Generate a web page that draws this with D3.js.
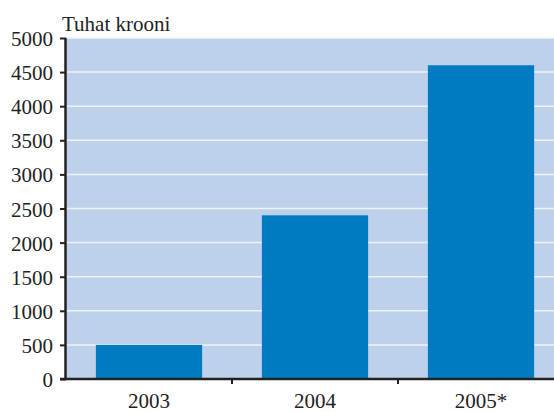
<!DOCTYPE html>
<html>
<head>
<meta charset="utf-8">
<script src="https://cdn.jsdelivr.net/npm/d3@7/dist/d3.min.js"></script>
<style>
  body { margin: 0; background: #fff; }
  #chart text { font-family: 'Liberation Serif', 'Times New Roman', Times, serif !important; fill: #222; }
</style>
</head>
<body>
<svg id="chart" width="554" height="412"></svg>
<script>
var years = ['2003', '2004', '2005*'];
var values = [500, 2400, 4600];
var yTicks = [0, 500, 1000, 1500, 2000, 2500, 3000, 3500, 4000, 4500, 5000];
var unitLabel = 'Tuhat krooni';

var svg = d3.select('#chart');
var plotLeft = 66, plotRight = 564, plotTop = 38, plotBottom = 379;

var x = d3.scaleBand().domain(years).range([plotLeft, plotRight])
  .paddingInner(0.36).paddingOuter(0.18);
var y = d3.scaleLinear().domain([0, 5000]).range([plotBottom, plotTop]);

// plot background
svg.append('rect').attr('x', plotLeft).attr('y', plotTop)
  .attr('width', plotRight - plotLeft).attr('height', plotBottom - plotTop)
  .attr('fill', '#bed1ea');

// gridlines
svg.append('g').selectAll('line').data(yTicks.slice(1)).enter().append('line')
  .attr('x1', plotLeft).attr('x2', plotRight)
  .attr('y1', function(d) { return y(d); })
  .attr('y2', function(d) { return y(d); })
  .attr('stroke', '#eef3fa').attr('stroke-width', 1.5);

// bars
svg.append('g').selectAll('rect').data(values).enter().append('rect')
  .attr('x', function(d, i) { return x(years[i]); })
  .attr('width', x.bandwidth())
  .attr('y', function(d) { return y(d); })
  .attr('height', function(d) { return y(0) - y(d); })
  .attr('fill', '#007ac2');

// y axis
var yAxis = svg.append('g').attr('transform', 'translate(' + plotLeft + ',0)')
  .call(d3.axisLeft(y).tickValues(yTicks).tickFormat(d3.format('d'))
    .tickSize(6).tickPadding(7));
yAxis.attr('font-family', null).attr('font-size', 21);
yAxis.select('.domain').remove();
yAxis.selectAll('.tick line').attr('stroke', '#222').attr('stroke-width', 2);
yAxis.selectAll('.tick text').attr('fill', '#222').attr('dy', '0.36em');
svg.append('line').attr('x1', plotLeft - 0.5).attr('x2', plotLeft - 0.5)
  .attr('y1', plotTop).attr('y2', plotBottom + 1)
  .attr('stroke', '#222').attr('stroke-width', 2.5);

// x axis
var bounds = years.slice(1).map(function(d) { return x(d) - x.step() * x.paddingInner() / 2; });
var xAxis = svg.append('g').attr('transform', 'translate(0,' + plotBottom + ')');
xAxis.append('line').attr('x1', plotLeft - 6).attr('x2', 554)
  .attr('stroke', '#222').attr('stroke-width', 2.5);
xAxis.selectAll('.sep').data(bounds).enter().append('line')
  .attr('class', 'sep')
  .attr('x1', function(d) { return d; }).attr('x2', function(d) { return d; })
  .attr('y1', 0).attr('y2', 5)
  .attr('stroke', '#222').attr('stroke-width', 2);
xAxis.selectAll('text').data(years).enter().append('text')
  .attr('x', function(d) { return x(d) + x.bandwidth() / 2; })
  .attr('y', 29)
  .attr('text-anchor', 'middle')
  .attr('font-size', 21)
  .text(function(d) { return d; });

svg.append('text').attr('x', 62).attr('y', 31)
  .attr('font-size', 21).text(unitLabel);
</script>
</body>
</html>
